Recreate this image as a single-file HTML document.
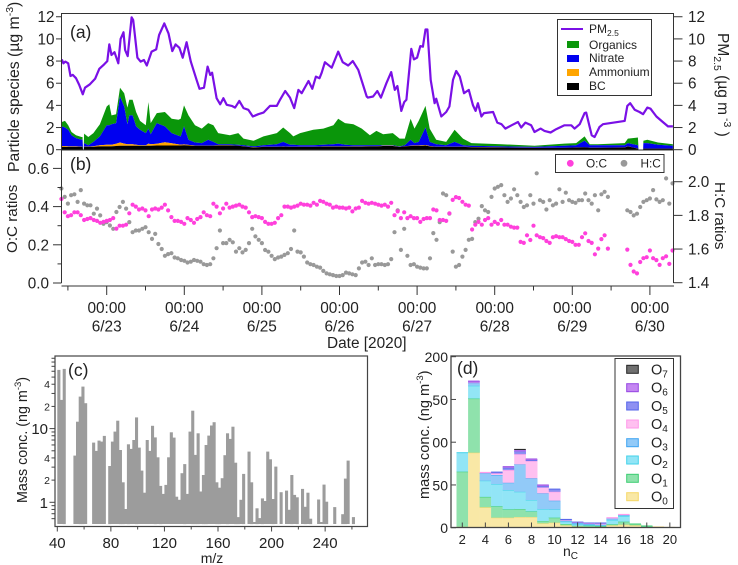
<!DOCTYPE html>
<html lang="en">
<head>
<meta charset="utf-8">
<title>Particle species chart</title>
<style>
html,body{margin:0;padding:0;background:#fff;width:738px;height:565px;overflow:hidden}
svg{display:block}
text{font-family:"Liberation Sans",sans-serif;fill:#222}
</style>
</head>
<body>
<svg id="fig" width="738" height="565" viewBox="0 0 738 565" xmlns="http://www.w3.org/2000/svg">
  <g id="a-series"></g>
  <g id="b-series"></g>
  <g id="c-series"></g>
  <g id="d-series"></g>
  <g id="axes"></g>

  <text x="70" y="38" font-size="17.5">(a)</text>
  <text x="70" y="170" font-size="17.5">(b)</text>
  <text x="68" y="376" font-size="17.5">(c)</text>
  <text x="457" y="374" font-size="17.5">(d)</text>

  <text transform="translate(19,172) rotate(-90)" font-size="15.8">Particle species (µg m<tspan dy="-6" font-size="10.5">-3</tspan><tspan dy="6">)</tspan></text>
  <text transform="translate(718,33) rotate(90)" font-size="15.5">PM<tspan dy="4" font-size="10.5">2.5</tspan><tspan dy="-4"> (µg m</tspan><tspan dy="-6" font-size="10.5"> -3</tspan><tspan dy="6"> )</tspan></text>
  <text transform="translate(17,253) rotate(-90)" font-size="15.2">O:C ratios</text>
  <text transform="translate(715,182) rotate(90)" font-size="15.2">H:C ratios</text>
  <text x="327" y="348" font-size="15.4">Date [2020]</text>
  <text transform="translate(27,503) rotate(-90)" font-size="14.3">Mass conc. (ng m<tspan dy="-6" font-size="9.5">-3</tspan><tspan dy="6">)</tspan></text>
  <text x="212" y="563" font-size="14" text-anchor="middle">m/z</text>
  <rect x="418" y="392" width="14" height="58" fill="#fff"/>
  <text transform="translate(429,499) rotate(-90)" font-size="14.6">mass conc. (ng m<tspan dy="-6" font-size="9.5">-3</tspan><tspan dy="6">)</tspan></text>
  <text x="563" y="556" font-size="14">n<tspan dy="3" font-size="10">C</tspan></text>

  <g>
    <rect x="557.5" y="19.5" width="94" height="76" fill="#fff" stroke="#333" stroke-width="1"/>
    <line x1="561" y1="29" x2="583" y2="29" stroke="#7a10e6" stroke-width="2"/>
    <text x="589" y="33" font-size="12">PM<tspan dy="3" font-size="8.5">2.5</tspan></text>
    <rect x="567" y="41" width="12" height="7" fill="#0a960a"/>
    <text x="589" y="49" font-size="12">Organics</text>
    <rect x="567" y="55" width="12" height="7" fill="#0000f0"/>
    <text x="589" y="62" font-size="12">Nitrate</text>
    <rect x="567" y="69" width="12" height="7" fill="#ffa500"/>
    <text x="589" y="76" font-size="12">Ammonium</text>
    <rect x="567" y="83" width="12" height="7" fill="#000"/>
    <text x="589" y="90" font-size="12">BC</text>
  </g>

  <g>
    <rect x="555.5" y="154.5" width="108.5" height="18" fill="#fff" stroke="#333" stroke-width="1"/>
    <circle cx="570.3" cy="163.3" r="3.4" fill="#ff40dc"/>
    <text x="586" y="167.5" font-size="11.8">O:C</text>
    <circle cx="624" cy="163.3" r="3.4" fill="#999"/>
    <text x="640.5" y="167.5" font-size="11.8">H:C</text>
  </g>

  <g id="d-legend">
    <rect x="615" y="358.5" width="58.5" height="150" fill="#fff" stroke="#333" stroke-width="1"/>
  </g>
</svg>
<script>
// Panel (a): PM2.5 time series (hours relative to 6/23 00:00)
var pmHours = [-13.9,-13.4,-12.8,-11.9,-11.2,-10.5,-9.5,-8.5,-7.4,-6.7,-5.2,-3.6,-2.3,-0.8,0.2,0.8,1.5,2.4,3.6,4.3,5.2,5.7,6.5,7.7,8.2,9.5,10.5,11.5,12.4,13.9,15.3,16.2,17.8,19.1,20.3,21.3,22.5,23.5,24.7,26,27.8,28.7,30.1,31.2,32,32.6,34,35.1,36.1,37.1,38.7,39.7,41,42.3,43.8,45.2,46.9,48.5,50.5,52.6,53.6,55.2,56.7,58,59.3,60.3,62.4,63.6,64.7,65.8,66.5,67.5,69.6,71.6,73,74.7,76.1,77.8,80.4,
80.8,82.4,83.7,84.8,86.5,88,89.1,89.9,91.1,92,92.7,94.2,95,96,97,97.8,98.6,99.2,100.2,101.4,101.9,103.5,105,106,107.1,108.1,109.2,110.5,112,113.3,114.1,114.8,115.9,116.7,119.5,120.8,122.1,123.3,125.2,127.2,128.2,129.5,131.3,132.3,134.2,135.4,137.3,139,141.6,143.7,144.7,146.3,147.8,148.3,150,150.9,152.4,153.5,160.2,161,161.9,163.3,164.8,165.9,167.2,168.2,170,172,173.6,175.1];
var pmValues = [8.15,7.8,7.95,7.8,6.65,6.75,6.45,5.85,5,5.6,5.9,6.4,7.3,7.7,8,9.5,8.55,8.8,7.8,10,10.6,9,8.45,11.95,11.7,8.3,7.95,8.1,7.6,8.85,9.05,10.35,11.4,10.5,8.9,9.5,9.2,8.3,9.7,7.95,6.3,5.5,5.6,7.5,6.75,6.95,4.65,4.1,4.65,4.05,3.95,3.8,4.4,3.75,3.6,3,3.2,3.35,3.95,3.95,4.5,5.3,4.7,3.75,5.4,5.1,6.2,5.5,6.6,6.45,6.95,7.9,7.4,8.85,7.9,7.6,8,7.2,4.8,
4.7,4.8,5.3,4.7,6,7,5.4,5.75,3.5,4.3,4.5,9.1,8.15,8.3,9.35,9.3,10.85,10.85,6.3,4.2,4.6,3,3.4,3.9,6.3,7.1,6.6,5.1,5.4,4,3.5,4.2,3,3.3,3.4,2.45,2.3,1.9,2.2,2.5,2,2.45,2.2,1.6,1.9,1.7,1.55,1.85,2.2,2.2,1.9,2.3,3.3,3.35,1.3,1.15,2.05,2.3,2.6,3.95,4.2,3.6,3.4,3.2,3.8,3.7,3,2.5,2.1,2.1];

// Panel (a): particle species, stacked
var speciesHours = [-13.9,-12.9,-11.9,-10.9,-9.5,-7.8,-7.5,-7.3,-7.1,-7.0,
-5.7,-4.1,-2.1,0,0.8,1.5,2.9,4.1,5.4,6.4,
7,8,9.1,10.3,12.1,12.9,13.6,15.5,18,20.1,
22.2,22.9,23.9,25.3,27.3,29.4,31.4,33,34.5,38.1,
40.7,42.3,45.4,48.5,52.6,54.6,56.7,57.7,59.8,63.9,
67,70.1,71.6,73.7,76.3,78.9,81.4,83.4,85.5,88.5,
90.6,92.2,94,95.2,96.5,98.6,99.9,101.9,105,107.6,
110.2,112.8,122.1,132.3,141.6,145.2,147.8,149.4,151.9,160.2,
161.2,164.3,164.5,165.9,166,167.2,170.5,175.1];
var bcValues = [.25,.25,.25,.25,.25,.25,.25,0,0,.25,
.25,.27,.3,.3,.3,.3,.33,.35,.35,.35,
.35,.35,.35,.35,.35,.35,.35,.38,.38,.38,
.38,.38,.4,.38,.35,.35,.35,.35,.38,.38,
.35,.3,.2,.25,.25,.28,.25,.25,.25,.25,
.28,.28,.28,.28,.28,.28,.3,.3,.33,.33,
.25,.3,.33,.33,.33,.38,.3,.25,.25,.25,
.25,.22,.2,.15,.17,.2,.22,.18,.18,.2,
.3,.1,0,0,.1,.1,.1,.1];
var ammoniumValues = [.08,.08,.05,.05,.05,.03,.03,0,0,.03,
.03,.05,.1,.15,.15,.15,.2,.3,.2,.15,
.15,.15,.1,.05,.05,.2,.15,.15,.3,.2,
.1,.08,.08,.05,.03,.03,.03,.03,.02,.02,
.02,.02,.02,.02,.02,.02,.02,.02,.02,.02,
.02,.02,.02,.02,.02,.02,.02,.02,.02,.02,
.02,.02,.03,.05,.05,.04,.03,.02,.02,.02,
.02,.02,.01,.01,.01,.01,.01,.01,.01,.01,
.01,.01,0,0,.01,.01,.01,.01];
var nitrateValues = [1.77,1.67,1.5,1,.75,.62,.62,0,0,.32,
.12,.38,.8,1.75,1.75,1.85,1.87,4.15,3.35,1.8,
2.6,2.6,1.65,1.4,1.1,1.35,.9,1.87,1.42,.92,
.77,.74,1.62,.47,.27,.22,.52,.32,.1,.1,
.08,.08,.08,.13,.23,.4,.18,.18,.13,.13,
.15,.2,.25,.15,.1,.1,.08,.08,.05,.05,
.03,.08,.54,.22,.32,1.58,.37,.23,.13,.43,
.13,.11,.09,.09,.17,.19,.57,.21,.21,.19,
.29,.29,0,0,.49,.49,.34,.24];
var organicsValues = [.4,.6,.4,.3,.25,.25,.25,0,0,.85,
.75,.8,1.1,1.7,1.9,.8,.8,.8,1.2,1.5,
1.4,1.4,1.3,.8,.7,2.4,1,.9,1.3,1.3,
1.45,1.6,1.9,2.2,1.55,1.3,1.5,1.5,1,.8,
1.05,.6,.5,.8,1,1.3,1.05,.75,1.1,1.4,
1.45,1.7,2.25,1.95,1.9,1.5,.9,1.3,1,1.1,
.7,.6,1.9,1.3,1.9,1.95,1.2,.4,.3,1.1,
.6,.25,.2,.1,.2,.2,.4,.1,.1,.2,
.4,.7,0,0,.2,.3,.2,.15];

// Panel (b): hourly ratios, first value at ratioStartHour, null where no data
var ratioStartHour = -14;
var ocValues = [.44,.37,.35,.355,.37,.37,.355,.33,.335,.34,.33,.325,.315,.32,.325,.33,.34,.285,.30,.30,.305,
.365,.41,.40,.385,.39,.38,.35,.385,.39,.385,.395,.41,.38,.345,.325,.325,.32,.31,.34,.33,.315,.335,.345,.37,.355,.35,.415,.40,.365,.39,.415,.395,.40,.405,.41,.40,.395,.37,.345,.35,.345,.34,.32,.31,.31,.315,.34,.355,.40,.40,.395,.40,.405,.415,.41,.41,.405,.42,.41,.43,.425,.415,.41,.395,.40,.395,.395,.39,.395,.375,.39,.395,.43,.42,.415,
.42,.415,.41,.405,.41,.40,.42,.355,.375,.34,.37,.34,.35,.34,.34,.32,.335,.34,.34,.385,.38,.33,.33,.325,.365,.435,.45,.445,.425,.41,.405,.28,.305,.32,.305,.33,.34,.305,.32,.31,.33,.305,.305,.295,.29,.29,.215,.21,.25,.225,.30,.25,.24,.235,.22,.21,.24,.245,.24,.24,.23,.22,.215,.20,.20,.24,.26,.22,.21,.15,.18,.23,.25,.18,
null,null,null,null,null,
.175,.095,.06,.05,.11,.13,.135,.17,.13,.12,.095,.13,.14,.10,.17];
var hcValues = [1.96,1.91,1.87,1.92,1.925,1.88,1.95,1.87,1.86,1.86,1.81,1.84,1.80,1.75,1.76,1.74,1.72,1.82,1.85,1.88,1.84,
1.76,1.70,1.71,1.71,1.72,1.73,1.70,1.66,1.69,1.63,1.60,1.56,1.57,1.575,1.55,1.545,1.535,1.53,1.52,1.525,1.535,1.53,1.525,1.51,1.505,1.51,1.545,1.605,1.71,1.635,1.635,1.655,1.64,1.585,1.605,1.58,1.595,1.635,1.72,1.675,1.655,1.635,1.594,1.584,1.56,1.54,1.55,1.555,1.565,1.575,1.60,1.71,1.585,1.58,1.555,1.52,1.51,1.505,1.495,1.49,1.47,1.455,1.45,1.445,1.44,1.44,1.445,1.46,1.455,1.45,1.445,1.485,1.52,1.525,1.505,
1.545,1.505,1.51,1.51,1.505,1.51,1.54,1.70,1.83,1.595,1.72,1.56,1.505,1.51,1.495,1.49,1.485,1.485,1.545,1.695,1.655,1.76,1.93,1.92,1.81,1.585,1.495,1.505,1.555,1.595,1.655,1.66,1.76,1.78,1.855,1.83,1.82,1.91,1.96,1.97,1.98,1.92,1.88,1.90,1.955,1.92,1.88,1.85,1.86,1.92,1.87,2.05,1.89,1.88,1.835,1.89,1.86,1.87,1.955,1.88,1.935,1.89,1.88,1.875,1.89,1.89,1.93,1.89,1.87,1.92,1.83,1.925,1.94,1.91,
null,null,null,null,null,
1.83,1.82,1.80,1.81,1.85,1.88,1.89,1.90,1.95,1.895,1.88,1.89,2.02,1.87,1.99];

// Panel (c): mass spectrum
var mzValues = [40,42,44,52,54,56,58,60,66,68,70,72,74,78,80,82,84,86,88,90,92,94,96,98,100,102,104,106,108,110,112,114,116,118,120,122,124,126,128,130,132,134,136,138,140,142,144,146,148,150,152,154,156,158,160,162,164,166,168,170,172,174,176,178,182,184,186,188,190,192,194,196,198,200,202,206,210,212,214,216,218,222,224,226,228,234,236,238,240,246,252,254,256,260];
var massValues = [62.5,24.5,64.6,4.3,12.4,27.2,37.2,22.1,6.45,4.98,6.87,6.66,7.95,3.11,6.66,9.1,12.8,5.13,1.87,.81,6.13,5.3,7,14.2,5.52,2.69,1.35,7,4.98,10.9,7.6,4.08,1.67,1.3,1.72,4.08,8.9,7.55,1.19,1.08,2.48,3.3,1.3,9.1,17.5,4.4,8.64,1.4,2.35,6,8.03,11,12.2,1.87,1.58,2.12,4.35,8.64,7.24,10.6,3.45,.63,1.08,2.43,4.87,1.87,.54,.83,.61,1.13,1.04,4.87,3.83,1.11,3.05,1.37,1.44,.79,2.35,1.26,1.17,1.52,.87,1.35,.6,1.09,.54,1.74,1.02,.86,.69,2.1,3.68,.63];

// Panel (d): carbon number distribution per oxygen count
var carbonNumbers = [2,3,4,5,6,7,8,9,10,11,12,13,14,15,16,17,18,19,20];
var o0Values = [1,87.7,23.8,11.7,11.7,12.5,12.5,5,5.8,2.7,1.2,.8,.8,2.7,3.5,2.7,.5,.8,.3];
var o1Values = [64.5,63.3,12.2,13.3,9.7,9.3,6.5,2.8,5.9,1.6,1.1,1.5,1.2,1.2,3.5,1.6,1.5,0,0];
var o2Values = [22.2,15,19,26,22.6,20.2,13.4,14,9.7,2.7,1.6,.8,.7,5.1,6.6,0,0,0,0];
var o3Values = [0,3,8.5,10.6,8.6,32,25.3,18.2,10.2,1.2,1.6,1.2,.8,1.5,1.2,0,0,0,0];
var o4Values = [0,1,1.2,1.9,14.8,12,20.3,7,10.4,.8,.7,.7,1.2,1.2,.8,0,0,0,0];
var o5Values = [0,.5,0,1.5,2.6,3,1,1.7,3.2,.7,.4,.5,.8,0,0,0,0,0,0];
var o6Values = [0,1,0,0,1.3,2,1.3,1.3,0,0,0,0,0,0,0,0,0,0,0];
var o7Values = [0,0,0,0,0,.6,0,0,0,0,0,0,0,0,0,0,0,0,0];
var oSeriesFill = ['#f9e8a6','#8fe2ac','#92e5f6','#92caf8','#ffc0f0','#8e90f2','#c486f2','#707070'];
var oSeriesEdge = ['#f6d868','#3ccd72','#42d2ea','#3ea4f2','#ff98ea','#5464ea','#9446e2','#222222'];

// Tick labels
var aTicks = [0,2,4,6,8,10,12];
var ocTicks = [0,0.2,0.4,0.6];
var ocMinorTicks = [0.1,0.3,0.5];
var hcTicks = [1.4,1.6,1.8,2.0];
var dayTicks = [['6/23',0],['6/24',24],['6/25',48],['6/26',72],['6/27',96],['6/28',120],['6/29',144],['6/30',168]];
var cXTicks = [40,80,120,160,200,240];
var cYMajor = [1,10];
var cYLabelled = [2,4,20,40];
var cYMinor = [0.6,0.7,0.8,0.9,2,3,4,5,6,7,8,9,20,30,40,50,60,70,80,90];
var dXTicks = [2,4,6,8,10,12,14,16,18,20];
var dYTicks = [0,50,100,150,200];

// Axis functions
function xT(h){return 106.7+h*3.2333;}
function yA(v){return 149.7-v*11.08;}
function yOC(v){return 283-v*191;}
function yHC(v){return 282.7-(v-1.4)*168.3;}
function xC(m){return 57.3+(m-40)*1.3392;}
function yC(v){return 502.3-Math.log10(v)*73.7;}
function xD(n){return 462.3+(n-2)*11.53;}
function yD(v){return 527.7-v*0.855;}

var NS='http://www.w3.org/2000/svg';
function mk(parent,tag,attrs,txt){
  var el=document.createElementNS(NS,tag);
  for(var k in attrs){el.setAttribute(k,attrs[k]);}
  if(txt!==undefined){el.textContent=txt;}
  parent.appendChild(el);
  return el;
}
var A=document.getElementById('axes'),SA=document.getElementById('a-series'),SB=document.getElementById('b-series'),SC=document.getElementById('c-series'),SD=document.getElementById('d-series'),LD=document.getElementById('d-legend');
var el,i,j;

// (a) stacked areas
var layerNames=['bc','ammonium','nitrate','organics'];
var layerData=[bcValues,ammoniumValues,nitrateValues,organicsValues];
var layerColor=['#000000','#ffa500','#0000f0','#0a960a'];
var cum=speciesHours.map(function(){return 0;});
var tops=[];
for(i=0;i<4;i++){
  var lower=cum.slice();
  cum=cum.map(function(c,k){return c+layerData[i][k];});
  var pts=[];
  for(j=0;j<speciesHours.length;j++){pts.push(xT(speciesHours[j]).toFixed(1)+','+yA(cum[j]).toFixed(1));}
  for(j=speciesHours.length-1;j>=0;j--){pts.push(xT(speciesHours[j]).toFixed(1)+','+yA(lower[j]).toFixed(1));}
  tops.push({name:layerNames[i],color:layerColor[i],pts:pts.join(' ')});
}
for(i=3;i>=0;i--){
  el=mk(SA,'polygon',{points:tops[i].pts,fill:tops[i].color,stroke:'none'});
  
  
}
// (a) PM2.5 line
el=mk(SA,'polyline',{points:pmHours.map(function(h,k){return xT(h).toFixed(1)+','+yA(pmValues[k]).toFixed(1);}).join(' '),fill:'none',stroke:'#7a10e6','stroke-width':2.2,'stroke-linejoin':'round'});



// (b) scatter
for(i=0;i<hcValues.length;i++){
  if(hcValues[i]===null){continue;}
  el=mk(SB,'circle',{cx:xT(ratioStartHour+i).toFixed(1),cy:yHC(hcValues[i]).toFixed(1),r:2.1,fill:'#999'});
  
  
}
for(i=0;i<ocValues.length;i++){
  if(ocValues[i]===null){continue;}
  el=mk(SB,'circle',{cx:xT(ratioStartHour+i).toFixed(1),cy:yOC(ocValues[i]).toFixed(1),r:2.1,fill:'#ff40dc'});
  
  
}

// (c) bars
for(i=0;i<mzValues.length;i++){
  el=mk(SC,'rect',{x:xC(mzValues[i]).toFixed(1),y:yC(massValues[i]).toFixed(1),width:(xC(mzValues[i]+2)-xC(mzValues[i])+0.4).toFixed(2),height:(yC(0.507)-yC(massValues[i])).toFixed(1),fill:'#9c9c9c'});
  
  
}

// (d) stacked bars
var oSeries=[o0Values,o1Values,o2Values,o3Values,o4Values,o5Values,o6Values,o7Values];
for(i=0;i<carbonNumbers.length;i++){
  var base=0;
  for(j=0;j<oSeries.length;j++){
    var val=oSeries[j][i];
    if(val<=0){continue;}
    var yTop=yD(base+val),yBot=yD(base);
    el=mk(SD,'rect',{x:xD(carbonNumbers[i]-0.5).toFixed(1),y:yTop.toFixed(1),width:'11.8',height:(yBot-yTop).toFixed(1),fill:oSeriesFill[j]});
    
    
    el=mk(SD,'line',{x1:xD(carbonNumbers[i]-0.5).toFixed(1),x2:xD(carbonNumbers[i]+0.5).toFixed(1),y1:yTop.toFixed(1),y2:yTop.toFixed(1),stroke:oSeriesEdge[j],'stroke-width':1});
    
    
    base+=val;
  }
}

// (d) legend entries
var oLegendY=[496.7,478.3,460,442.7,424,406,387.7,369.3];
for(j=0;j<8;j++){
  el=mk(LD,'rect',{x:626.7,y:oLegendY[j]-4,width:11.6,height:8,fill:oSeriesFill[j],stroke:oSeriesEdge[j],'stroke-width':1});
  
  
  el=mk(LD,'text',{x:651,y:oLegendY[j]+5,'font-size':14.5},'O');
  
  
  var sub=mk(el,'tspan',{dy:3,'font-size':10},String(j));
}

// Axis frames
var C1='#333',C2='#444';
function seg(x1,y1,x2,y2,w,c){return mk(A,'line',{x1:x1,y1:y1,x2:x2,y2:y2,stroke:c||C1,'stroke-width':w||1});}
el=seg(61,13.5,674,13.5);


el=seg(61.5,13.5,61.5,283);


el=seg(673.5,13.5,673.5,283);


el=seg(61,150,674,150);


el=seg(61.5,286,674,286);


el=mk(A,'rect',{x:55,y:356,width:312.5,height:170.5,fill:'none',stroke:C2,'stroke-width':1.2});


el=mk(A,'rect',{x:451,y:356,width:229.5,height:171.5,fill:'none',stroke:C2,'stroke-width':1.3});



// (a) y ticks
aTicks.forEach(function(v){
  var t=seg(56,yA(v),61.5,yA(v));
  
  
  t=seg(673.5,yA(v),682.5,yA(v));
  
  
  t=mk(A,'text',{x:54.5,y:yA(v)+5.5,'font-size':15.3,'text-anchor':'end'},String(v));
  
  
  t=mk(A,'text',{x:688,y:yA(v)+5.5,'font-size':15.3},String(v));
  
  
});
// (b) y ticks
ocTicks.forEach(function(v){
  var t=seg(53,yOC(v),61.5,yOC(v));
  
  
  t=mk(A,'text',{x:49,y:yOC(v)+5.5,'font-size':15.3,'text-anchor':'end'},v.toFixed(1));
  
  
});
ocMinorTicks.forEach(function(v){
  var t=seg(57.5,yOC(v),61.5,yOC(v));
  
  
});
hcTicks.forEach(function(v){
  var t=seg(673.5,yHC(v),682.5,yHC(v));
  
  
  t=mk(A,'text',{x:688,y:yHC(v)+5.5,'font-size':15.3},v.toFixed(1));
  
  
});
// date ticks
dayTicks.forEach(function(d){
  var x=xT(d[1]);
  var t=seg(x,286,x,295);
  
  
  t=seg(xT(d[1]-12),286,xT(d[1]-12),290.5);
  
  
  t=mk(A,'text',{x:x,y:313,'font-size':15.4,'text-anchor':'middle'},'00:00');
  
  
  t=mk(A,'text',{x:x,y:331.5,'font-size':15.4,'text-anchor':'middle'},d[0]);
  
  
});
// (c) axes
cXTicks.forEach(function(m){
  var t=seg(xC(m),526.5,xC(m),531.5,1,C2);
  
  
  t=mk(A,'text',{x:xC(m),y:548,'font-size':15,'text-anchor':'middle'},String(m));
  
  
});
for(var mzTick=60;mzTick<=260;mzTick+=40){
  el=seg(xC(mzTick),526.5,xC(mzTick),529.5,1,C2);
  
  
}
cYMinor.forEach(function(v){
  var t=seg(51.5,yC(v),55,yC(v),1,C2);
  
  
});
cYMajor.forEach(function(v){
  var t=seg(49.5,yC(v),55,yC(v),1,C2);
  
  
  t=mk(A,'text',{x:48,y:yC(v)+5.5,'font-size':15,'text-anchor':'end'},String(v));
  
  
});
cYLabelled.forEach(function(v){
  var digit=String(v).charAt(0);
  var t=mk(A,'text',{x:50,y:yC(v)+4,'font-size':10.5,'text-anchor':'end'},digit);
  
  
});
// (d) axes
dXTicks.forEach(function(n){
  var t=seg(xD(n),527.7,xD(n),522.5,1,C2);
  
  
  t=mk(A,'text',{x:xD(n),y:544,'font-size':13,'text-anchor':'middle'},String(n));
  
  
});
dYTicks.forEach(function(v){
  var t=seg(451,yD(v),456,yD(v),1,C2);
  
  
  t=mk(A,'text',{x:448,y:yD(v)+5.5,'font-size':14,'text-anchor':'end'},String(v));
  
  
});
</script>
</body>
</html>
